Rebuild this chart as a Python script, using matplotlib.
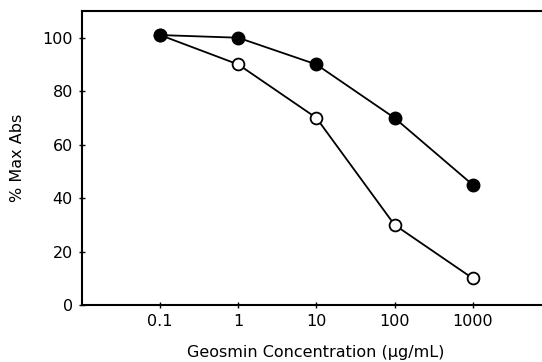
import numpy as np
import matplotlib
matplotlib.use("Agg")
import matplotlib.pyplot as plt

conc = [0.1, 1, 10, 100, 1000]
filled = [101, 100, 90, 70, 45]
opened = [101, 90, 70, 30, 10]
xtick_labels = ["0.1", "1", "10", "100", "1000"]

plt.rcParams['font.family'] = ['DejaVu Sans']

fig = plt.figure(figsize=(5.42, 3.62), dpi=100)
ax = fig.add_axes([82 / 542, 57 / 362, (541 - 82) / 542, (305 - 11) / 362])

ax.plot(conc, opened, color='black', lw=1.3, marker='o', ms=8.5,
        mfc='white', mec='black', mew=1.3, zorder=2)
ax.plot(conc, filled, color='black', lw=1.3, marker='o', ms=9,
        mfc='black', mec='black', zorder=3)

ax.set_xscale('log')
ax.set_xlim(0.01, 7500)
ax.set_ylim(0, 110)
ax.set_xticks(conc)
ax.set_xticklabels(xtick_labels)
ax.minorticks_off()
ax.set_yticks([0, 20, 40, 60, 80, 100])

for s in ax.spines.values():
    s.set_linewidth(1.5)
ax.spines['right'].set_visible(False)

ax.tick_params(direction='inout', length=5, width=1, labelsize=11.5, pad=4)
ax.set_xlabel('Geosmin Concentration (μg/mL)', fontsize=11.5)
ax.xaxis.set_label_coords(0.51, -0.135)
ax.set_ylabel('% Max Abs', fontsize=11.5)
ax.yaxis.set_label_coords(-0.125, 0.5)

fig.savefig('out.png', dpi=100)
